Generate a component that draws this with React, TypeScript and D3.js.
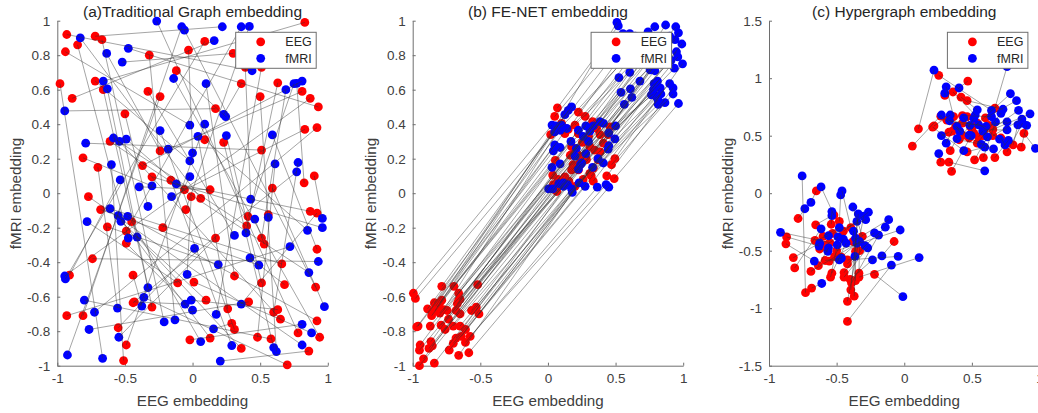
import { useEffect, useRef } from 'react'
import * as d3 from 'd3'

type Pt = [number, number]

// Panel (a): values, pairings estimated
const eegA: Pt[] = [
  [-0.93, 0.92], [-0.72, 0.91], [-0.67, 0.89], [-0.94, 0.82], [-0.85, 0.86], [-0.98, 0.635], [-0.72, 0.65], [-0.66, 0.6],
  [-0.89, 0.55], [-0.5, 0.46], [-0.32, 0.8], [-0.12, 0.71], [-0.33, 0.59], [-0.24, 0.56], [-0.03, 0.83], [0.09, 0.88],
  [0.3, 0.81], [0.39, 0.73], [0.51, 0.73], [0.36, 0.635], [0.63, 0.64], [0.5, 0.56], [0.81, 0.59], [0.87, 0.55],
  [0.93, 0.5], [0.83, 0.37], [0.92, 0.38], [0.17, 0.49], [0.09, 0.31], [0.23, 0.295], [0.51, 0.25], [-0.61, 0.3],
  [-0.24, 0.245], [-0.81, 0.205], [-0.7, 0.15], [-0.37, 0.16], [-0.3, 0.095], [-0.16, 0.075], [-0.06, 0.02], [-0.01, -0.02],
  [0.06, -0.03], [0.13, 0.02], [0.59, 0.03], [0.825, 0.06], [0.9, 0.1], [-0.77, -0.02], [0.83, 0.99],
  [-0.68, -0.095], [-0.05, -0.095], [0.87, -0.105], [0.92, -0.115], [0.41, -0.135], [0.56, -0.125], [-0.45, -0.165], [0.4, -0.19],
  [-0.63, -0.195], [-0.49, -0.22], [-0.22, -0.2], [-0.49, -0.29], [0.51, -0.26], [0.53, -0.295], [0.17, -0.26], [0.92, -0.325],
  [-0.74, -0.38], [0.66, -0.41], [-0.91, -0.475], [-0.44, -0.475], [0.31, -0.48], [-0.11, -0.52], [0.01, -0.515], [0.51, -0.52],
  [0.68, -0.53], [0.91, -0.545], [-0.44, -0.635], [-0.43, -0.63], [-0.3, -0.66], [0.1, -0.62], [0.415, -0.63], [0.26, -0.67],
  [-0.93, -0.71], [-0.81, -0.71], [0.6, -0.69], [0.63, -0.675], [0.65, -0.73], [0.92, -0.74], [0.29, -0.755], [0.31, -0.79],
  [-0.55, -0.78], [0.78, -0.81], [0.48, -0.835], [0.58, -0.845], [0.94, -0.835], [0.13, -0.84], [-0.02, -0.85], [-0.49, -0.88],
  [0.36, -0.9], [0.86, -0.915], [-0.51, -0.97], [0.7, -0.995],
]
const fmriA: Pt[] = [
  [-0.265, 0.998], [-0.08, 0.965], [-0.06, 0.945], [0.22, 0.965], [0.36, 0.965], [0.42, 0.967], [-0.83, 0.9], [-0.635, 0.81],
  [-0.475, 0.84], [-0.52, 0.76], [0.16, 0.885], [0.44, 0.71], [-0.14, 0.665], [-0.66, 0.65], [-0.63, 0.605], [0.1, 0.635],
  [0.69, 0.6], [0.75, 0.635], [0.77, 0.637], [0.81, 0.65], [-0.945, 0.477], [0.23, 0.457], [0.245, 0.444], [-0.02, 0.395],
  [0.09, 0.4], [-0.24, 0.363], [0.04, 0.33], [0.25, 0.334], [0.59, 0.338], [-0.585, 0.32], [-0.54, 0.3], [-0.49, 0.313],
  [-0.79, 0.29], [-0.18, 0.255], [0, 0.233], [-0.02, 0.187], [-0.6, 0.166], [0.61, 0.17], [0.78, 0.178], [0.77, 0.124],
  [-0.535, 0.077], [-0.02, 0.096], [-0.12, 0.054], [-0.395, 0.037], [-0.3, 0.042], [-0.155, -0.02], [0.43, -0.035], [-0.33, -0.077],
  [-0.61, -0.09], [-0.55, -0.13], [-0.48, -0.134], [-0.53, -0.163], [-0.78, -0.165], [0.46, -0.15], [0.56, -0.14], [0.96, -0.146],
  [0.96, -0.2], [0.85, -0.215], [0.395, -0.23], [0.31, -0.245], [-0.475, -0.26], [-0.41, -0.254], [0.015, -0.32], [0.72, -0.31],
  [0.425, -0.375], [0.93, -0.396], [0.19, -0.414], [0.49, -0.417], [-0.04, -0.47], [0.86, -0.46], [-0.945, -0.48], [-0.94, -0.497],
  [-0.33, -0.547], [-0.36, -0.604], [-0.8, -0.62], [-0.01, -0.62], [-0.055, -0.643], [-0.375, -0.654], [0, -0.678], [0.36, -0.643],
  [0.975, -0.658], [-0.555, -0.666], [-0.725, -0.69], [0.175, -0.703], [-0.13, -0.734], [-0.21, -0.746], [0.81, -0.76], [0.155, -0.786],
  [-0.765, -0.79], [0.88, -0.81], [-0.545, -0.835], [0.06, -0.86], [0.81, -0.88], [0.29, -0.883], [0.6, -0.895], [0.62, -0.918],
  [-0.925, -0.938], [-0.665, -0.957], [0.205, -0.973],
]
const linksA = [
  11, 3, 85, 23, 60, 97, 35, 72, 10, 47, 84, 22, 59, 96, 34, 71, 9, 46, 83, 21, 58, 95, 33, 70, 8, 45, 82, 20, 57, 94, 32, 69, 7,
  44, 81, 19, 56, 93, 31, 68, 6, 43, 80, 18, 55, 92, 13, 67, 5, 42, 79, 17, 54, 91, 29, 66, 4, 41, 78, 16, 53, 90, 28, 65, 48, 40,
  77, 15, 52, 89, 27, 64, 2, 39, 76, 14, 51, 88, 26, 63, 1, 38, 75, 30, 50, 87, 25, 62, 0, 37, 74, 12, 49, 86, 24, 61, 98, 36, 73,
]

// Panel (b)
const eegB: Pt[] = [
  [-0.995, -0.58], [-0.98, -0.61], [-0.785, -0.54], [-0.695, -0.54], [-0.52, -0.53], [-0.66, -0.58], [-0.65, -0.615], [-0.67, -0.64],
  [-0.785, -0.62], [-0.8, -0.635], [-0.84, -0.635], [-0.82, -0.66], [-0.89, -0.67], [-0.835, -0.68], [-0.8, -0.695], [-0.86, -0.71],
  [-0.745, -0.68], [-0.68, -0.68], [-0.65, -0.7], [-0.565, -0.68], [-0.53, -0.66], [-0.51, -0.7], [-0.735, -0.73], [-0.96, -0.77],
  [-0.97, -0.775], [-0.87, -0.77], [-0.79, -0.765], [-0.76, -0.79], [-0.7, -0.77], [-0.65, -0.77], [-0.61, -0.79], [-0.575, -0.83],
  [-0.64, -0.83], [-0.68, -0.84], [-0.7, -0.87], [-0.61, -0.865], [-0.865, -0.86], [-0.855, -0.885], [-0.88, -0.9], [-0.945, -0.88],
  [-0.95, -0.91], [-0.73, -0.91], [-0.66, -0.94], [-0.585, -0.925], [-0.92, -0.96], [-0.95, -1], [-0.84, -0.985], [-0.83, -0.655],
  [-0.77, -0.675], [-0.66, -0.62],
  [0.07, 0.495], [0.05, 0.445], [0.225, 0.47], [0.275, 0.445], [0.1, 0.405], [0.2, 0.395], [0.33, 0.415], [0.02, 0.34],
  [0.15, 0.37], [0.385, 0.34], [0.46, 0.385], [0.255, 0.295], [0.345, 0.25], [0.385, 0.24], [0.165, 0.22], [0.2, 0.25],
  [0.285, 0.195], [0.055, 0.19], [0.185, 0.165], [0.47, 0.165], [0.495, 0.2], [0.035, 0.105], [0.125, 0.095], [0.435, 0.1],
  [0.49, 0.085], [0.32, 0.1], [0.26, 0.08], [0.335, 0.07], [0.2, 0.04], [0.065, 0.01], [0.235, 0.175], [0.31, 0.27],
  [0.1, 0.385], [0.275, 0.21], [0.225, 0.135], [0.37, 0.195], [0.335, 0.145], [0.075, 0.08], [0.125, 0.345], [0.175, 0.27],
  [0.41, 0.29], [0.3, 0.33], [0.155, 0.07], [0.04, 0.05], [0.445, 0.34], [0.225, 0.345], [0.36, 0.375], [0.225, 0.22],
  [0.31, 0.115], [0.175, 0.135],
]
const fmriB: Pt[] = [
  [0.175, 0.5], [0.15, 0.48], [0.125, 0.455], [0.03, 0.395], [0.055, 0.39], [0.09, 0.365], [0.14, 0.375], [0.225, 0.365],
  [0.28, 0.39], [0.335, 0.39], [0.385, 0.415], [0.5, 0.39], [0.45, 0.35], [0.495, 0.315], [0.26, 0.33], [0.3, 0.3],
  [0.17, 0.3], [0.21, 0.26], [0.05, 0.28], [0.09, 0.265], [0.04, 0.245], [0.45, 0.275], [0.445, 0.255], [0.28, 0.23],
  [0.37, 0.2], [0.41, 0.175], [0.24, 0.165], [0.09, 0.17], [0.03, 0.15], [0.225, 0.14], [0.33, 0.15], [0.115, 0.06],
  [0.08, 0.055], [0.005, 0.025], [0.035, 0.025], [0.175, 0.025], [0.18, 0.005], [0.23, 0.06], [0.275, 0.04], [0.365, 0.035],
  [0.43, 0.05], [0.45, 0.035], [0.1, 0.395], [0.31, 0.36], [0.2, 0.215], [0.25, 0.175], [0.115, 0.04], [0.41, 0.405],
  [0.05, 0.355], [0.145, 0.05],
  [0.51, 0.99], [0.52, 0.97], [0.555, 0.925], [0.605, 0.925], [0.74, 0.935], [0.79, 0.965], [0.87, 0.975], [0.945, 0.965],
  [0.965, 0.93], [0.99, 0.865], [0.94, 0.89], [0.95, 0.82], [0.995, 0.75], [0.935, 0.725], [0.91, 0.77], [0.77, 0.745],
  [0.79, 0.71], [0.605, 0.7], [0.525, 0.67], [0.68, 0.65], [0.81, 0.65], [0.785, 0.635], [0.9, 0.635], [0.925, 0.61],
  [0.925, 0.575], [0.54, 0.585], [0.61, 0.605], [0.62, 0.555], [0.565, 0.515], [0.78, 0.6], [0.78, 0.575], [0.835, 0.575],
  [0.8, 0.56], [0.765, 0.57], [0.815, 0.54], [0.865, 0.525], [0.965, 0.52], [0.815, 0.515], [0.74, 0.85], [0.84, 0.89],
  [0.865, 0.83], [0.72, 0.79], [0.645, 0.91], [0.815, 0.79], [0.73, 0.91], [0.9, 0.91], [0.96, 0.79], [0.79, 0.89],
  [0.755, 0.715], [0.83, 0.61],
]
const linksB = [
  3, 48, 0, 8, 11, 9, 43, 14, 7, 6, 2, 16, 5, 1, 17, 19, 46, 15, 47, 12, 13, 21, 23, 20, 18, 44, 26, 45, 24, 22, 25, 40, 30, 29, 37,
  39, 27, 31, 32, 28, 34, 38, 36, 41, 33, 49, 35, 4, 42, 10,
  51, 52, 54, 55, 53, 89, 95, 50, 92, 60, 58, 90, 93, 96, 67, 91, 63, 68, 98, 74, 62, 75, 69, 73, 86, 99, 87, 81, 84, 77, 66, 64,
  94, 71, 79, 72, 70, 76, 88, 65, 61, 57, 82, 78, 59, 97, 56, 80, 85, 83,
]

// Panel (c)
const eegC: Pt[] = [
  [0.255, 1.025], [0.47, 0.975], [0.36, 0.88], [0.3, 0.85], [0.42, 0.835], [0.465, 0.805], [0.67, 0.74], [0.27, 0.67],
  [0.43, 0.675], [0.465, 0.665], [0.6, 0.655], [0.105, 0.56], [0.21, 0.575], [0.22, 0.585], [0.38, 0.58], [0.355, 0.54],
  [0.43, 0.61], [0.54, 0.61], [0.33, 0.53], [0.405, 0.465], [0.48, 0.48], [0.54, 0.435], [0.58, 0.5], [0.655, 0.555],
  [0.655, 0.5], [0.885, 0.52], [0.06, 0.41], [0.805, 0.42], [0.865, 0.4], [0.34, 0.37], [0.465, 0.36], [0.76, 0.36],
  [0.27, 0.27], [0.33, 0.27], [0.52, 0.29], [0.585, 0.31], [0.67, 0.31], [0.35, 0.19], [0.49, 0.58], [0.59, 0.55],
  [0.415, 0.525], [0.715, 0.48], [0.365, 0.665], [0.55, 0.49], [0.515, 0.52], [0.43, 0.5], [0.625, 0.59], [0.315, 0.635],
  [0.5, 0.56],
  [-0.65, 0.02], [-0.785, -0.22], [-0.52, -0.19], [-0.655, -0.275], [-0.54, -0.27], [-0.48, -0.245], [-0.395, -0.3], [-0.31, -0.375],
  [-0.87, -0.38], [-0.875, -0.44], [-0.66, -0.41], [-0.6, -0.375], [-0.625, -0.485], [-0.575, -0.45], [-0.36, -0.505], [-0.075, -0.42],
  [-0.82, -0.56], [-0.81, -0.65], [-0.585, -0.585], [-0.555, -0.59], [-0.515, -0.55], [-0.465, -0.555], [-0.42, -0.615], [-0.635, -0.63],
  [-0.69, -0.68], [-0.22, -0.705], [-0.535, -0.695], [-0.545, -0.73], [-0.445, -0.69], [-0.445, -0.73], [-0.4, -0.75], [-0.335, -0.695],
  [-0.335, -0.73], [-0.36, -0.76], [-0.685, -0.825], [-0.73, -0.865], [-0.395, -0.84], [-0.37, -0.895], [-0.42, -0.94], [-0.42, -1.115],
  [-0.39, -0.78], [-0.53, -0.35], [-0.45, -0.33], [-0.38, -0.42], [-0.5, -0.5], [-0.55, -0.43], [-0.33, -0.5], [-0.42, -0.58],
]
const fmriC: Pt[] = [
  [0.22, 1.07], [0.31, 0.925], [0.3, 0.87], [0.405, 0.915], [0.785, 0.865], [0.83, 0.805], [0.845, 0.72], [0.93, 0.69],
  [0.275, 0.68], [0.34, 0.68], [0.335, 0.63], [0.44, 0.655], [0.525, 0.68], [0.54, 0.725], [0.515, 0.65], [0.645, 0.72],
  [0.645, 0.665], [0.73, 0.73], [0.715, 0.695], [0.87, 0.645], [0.76, 0.62], [0.84, 0.595], [0.905, 0.59], [0.875, 0.61],
  [0.485, 0.59], [0.605, 0.58], [0.58, 0.54], [0.76, 0.55], [0.41, 0.54], [0.275, 0.5], [0.39, 0.475], [0.48, 0.505],
  [0.495, 0.5], [0.705, 0.47], [0.77, 0.46], [0.745, 0.42], [0.31, 0.435], [0.57, 0.425], [0.595, 0.4], [0.66, 0.385],
  [0.97, 0.39], [0.255, 0.345], [0.44, 0.37], [0.595, 0.195], [0.55, 0.595], [0.675, 0.62], [0.76, 1.1], [0.615, 0.49],
  [0.39, 0.58],
  [-0.755, 0.15], [-0.615, 0.055], [-0.46, 0.02], [-0.47, -0.015], [-0.69, -0.08], [-0.38, -0.12], [-0.735, -0.135], [-0.535, -0.16],
  [-0.265, -0.165], [-0.535, -0.195], [-0.34, -0.18], [-0.3, -0.2], [-0.35, -0.245], [-0.285, -0.23], [-0.115, -0.23], [-0.14, -0.295],
  [-0.03, -0.32], [-0.22, -0.345], [-0.19, -0.365], [-0.915, -0.34], [-0.615, -0.31], [-0.48, -0.3], [-0.56, -0.37], [-0.375, -0.33],
  [-0.36, -0.39], [-0.49, -0.38], [-0.45, -0.4], [-0.625, -0.435], [-0.63, -0.46], [-0.56, -0.475], [-0.565, -0.505], [-0.495, -0.45],
  [-0.43, -0.435], [-0.35, -0.435], [-0.29, -0.455], [-0.27, -0.475], [-0.365, -0.55], [-0.48, -0.58], [-0.665, -0.59], [-0.235, -0.58],
  [-0.165, -0.545], [-0.045, -0.55], [0.11, -0.56], [-0.095, -0.625], [-0.61, -0.785], [-0.01, -0.9], [-0.33, -0.42], [-0.465, -0.565],
]
const linksC = [
  15, 3, 12, 2, 13, 17, 46, 28, 16, 24, 5, 0, 42, 9, 31, 36, 44, 33, 29, 37, 39, 18, 6, 7, 19, 40, 8, 21, 22, 30, 38, 23, 41, 43, 47,
  45, 34, 32, 10, 27, 48, 35, 1, 26, 11, 14, 20, 25, 4,
  53, 55, 50, 58, 56, 52, 51, 54, 77, 87, 71, 70, 79, 74, 73, 89, 76, 69, 96, 86, 75, 82, 85, 78, 66, 94, 81, 80, 83, 84, 88, 95, 91,
  72, 93, 49, 59, 61, 60, 92, 67, 62, 57, 63, 65, 68, 64, 90,
]

const xTicks = [-1, -0.5, 0, 0.5, 1]
const yTicksFine = [-1, -0.8, -0.6, -0.4, -0.2, 0, 0.2, 0.4, 0.6, 0.8, 1]
const yTicksWide = [-1.5, -1, -0.5, 0, 0.5, 1, 1.5]
const legendLabels = ['EEG', 'fMRI']
const COLORS = ['#ff0000', '#0000ff']

const W = 270.5
const TOP = 20.7
const BOTTOM = 365.7
const FONT = '"Liberation Sans", Arial, sans-serif'

function Panel({ left, title, eeg, fmri, links, yDomain, yTicks, yLabelX }: {
  left: number
  title: string
  eeg: Pt[]
  fmri: Pt[]
  links: number[]
  yDomain: [number, number]
  yTicks: number[]
  yLabelX: number
}) {
  const axisX = useRef<SVGGElement>(null)
  const axisY = useRef<SVGGElement>(null)
  const x = d3.scaleLinear().domain([-1, 1]).range([0, W])
  const y = d3.scaleLinear().domain(yDomain).range([BOTTOM, TOP])

  useEffect(() => {
    const styleAxis = (g: any) => {
      g.selectAll('path').attr('stroke', '#6e6e6e').attr('stroke-width', 1)
      g.selectAll('line').attr('stroke', '#6e6e6e')
      g.selectAll('text').attr('fill', '#404040').attr('font-size', 13.5).attr('font-family', FONT)
    }
    d3.select(axisX.current)
      .call(d3.axisBottom(x).tickValues(xTicks).tickFormat(d => String(d)).tickSizeInner(-3).tickSizeOuter(0).tickPadding(8) as any)
      .call(styleAxis)
    d3.select(axisY.current)
      .call(d3.axisLeft(y).tickValues(yTicks).tickFormat(d => String(d)).tickSizeInner(-3).tickSizeOuter(0).tickPadding(7) as any)
      .call(styleAxis)
  })

  return (
    <g transform={`translate(${left},0)`}>
      <g ref={axisX} transform={`translate(0,${BOTTOM})`} />
      <g ref={axisY} />
      {eeg.map((d, i) => <circle key={i} cx={x(d[0])} cy={y(d[1])} r={4.4} fill={COLORS[0]} />)}
      {fmri.map((d, i) => <circle key={i} cx={x(d[0])} cy={y(d[1])} r={4.4} fill={COLORS[1]} />)}
      {links.map((j, i) => (
        <line key={i} x1={x(eeg[i][0])} y1={y(eeg[i][1])} x2={x(fmri[j][0])} y2={y(fmri[j][1])}
          stroke="#303030" strokeOpacity={0.8} strokeWidth={0.55} />
      ))}
      <text x={W / 2} y={16.5} textAnchor="middle" fontSize={15.5} fill="#262626" fontFamily={FONT}>{title}</text>
      <text x={W / 2} y={406} textAnchor="middle" fontSize={15.2} fill="#404040" fontFamily={FONT}>EEG embedding</text>
      <text transform={`translate(${yLabelX - left},193.5) rotate(-90)`} textAnchor="middle" fontSize={15.2} fill="#404040" fontFamily={FONT}>fMRI embedding</text>
      {/* Legend */}
      <g transform="translate(178.4,32.3)">
        <rect width={80.5} height={36} fill="white" stroke="#6e6e6e" strokeWidth={1} />
        {legendLabels.map((label, i) => (
          <g key={label}>
            <circle cx={25} cy={9.5 + i * 16.5} r={4.4} fill={COLORS[i]} />
            <text x={76} y={14 + i * 16.5} textAnchor="end" fontSize={12.5} fill="#262626" fontFamily={FONT}>{label}</text>
          </g>
        ))}
      </g>
    </g>
  )
}

export default function App() {
  return (
    <svg width={1038} height={413} style={{ position: 'absolute', left: 0, top: 0, display: 'block' }}>
      <rect width={1038} height={413} fill="white" />
      <Panel left={57.3} title="(a)Traditional Graph embedding" eeg={eegA} fmri={fmriA} links={linksA}
        yDomain={[-1, 1]} yTicks={yTicksFine} yLabelX={21} />
      <Panel left={412.7} title="(b) FE-NET embedding" eeg={eegB} fmri={fmriB} links={linksB}
        yDomain={[-1, 1]} yTicks={yTicksFine} yLabelX={376} />
      <Panel left={769} title="(c) Hypergraph embedding" eeg={eegC} fmri={fmriC} links={linksC}
        yDomain={[-1.5, 1.5]} yTicks={yTicksWide} yLabelX={733} />
    </svg>
  )
}
